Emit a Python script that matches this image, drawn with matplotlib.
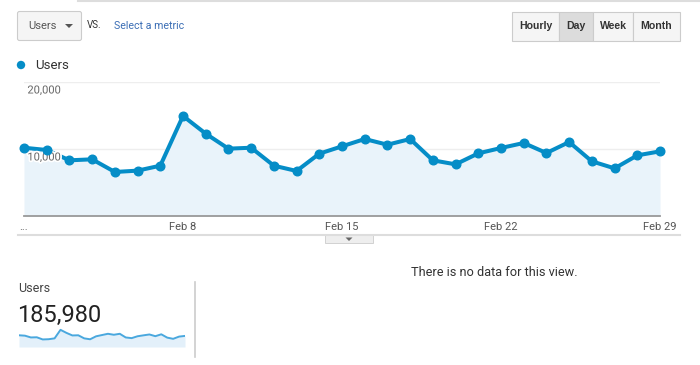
import matplotlib
matplotlib.use("Agg")
import matplotlib.pyplot as plt
from matplotlib.patches import FancyBboxPatch, Rectangle, Circle, Polygon
import matplotlib.patheffects as pe
from matplotlib.transforms import offset_copy

plt.rcParams['font.family'] = ['Roboto', 'DejaVu Sans']

# ---- data ----
days = list(range(1, 30))
users = [10190, 9850, 8310, 8460, 6570, 6770, 7510, 14930, 12290, 10050,
         10190, 7510, 6720, 9300, 10400, 11490, 10640, 11490, 8310, 7710,
         9350, 10150, 10900, 9400, 11040, 8160, 7110, 9050, 9650]
tick_days = [1, 8, 15, 22, 29]
tick_labels = ["...", "Feb 8", "Feb 15", "Feb 22", "Feb 29"]
ytick_vals = [10000, 20000]
ytick_labels = ["10,000", "20,000"]
total_users = "185,980"
metric = "Users"
buttons = ["Hourly", "Day", "Week", "Month"]

W, H = 700, 365
fig = plt.figure(figsize=(W / 100, H / 100), dpi=100)
fig.patch.set_facecolor('white')

def ax_px(x0, y0, x1, y1):
    return fig.add_axes([x0 / W, 1 - y1 / H, (x1 - x0) / W, (y1 - y0) / H])

LINE = '#058dc7'
FILL = '#e9f3fa'

# ---- main chart ----
ax = ax_px(24, 82, 660, 216)
ax.set_xlim(1, 29)
ax.set_ylim(0, 20000)
ax.fill_between(days, users, 0, color=FILL, zorder=1, lw=0)
for v in ytick_vals:
    ax.axhline(v, color='#eeeeee', lw=1, zorder=0.5)
lab_tr = offset_copy(ax.transData, fig=fig, x=0, y=-2.5, units='points')
for v, lab in zip(ytick_vals, ytick_labels):
    ax.text(1.15, v, lab, ha='left', va='top', fontsize=8, color='#666666',
            zorder=4, transform=lab_tr,
            path_effects=[pe.withStroke(linewidth=2.5, foreground='white')])
ax.plot(days, users, color=LINE, lw=2.9, zorder=3, clip_on=False,
        solid_joinstyle='round')
ax.plot(days, users, color=LINE, lw=0, marker='o', ms=6.2, zorder=5, clip_on=False)
for s in ['top', 'right', 'left']:
    ax.spines[s].set_visible(False)
ax.spines['bottom'].set_color('#999999')
ax.spines['bottom'].set_linewidth(1.3)
ax.set_yticks([])
ax.set_xticks(tick_days)
ax.set_xticklabels(tick_labels, fontsize=8, color='#555555')
ax.tick_params(axis='x', length=0, pad=4)
ax.patch.set_alpha(0)

# ---- sparkline ----
sp = ax_px(19, 324, 185, 347)
sp.set_xlim(1, 29)
sp.set_ylim(0, 20000)
sp.fill_between(days, users, 0, color='#e3f0fa', lw=0)
sp.plot(days, users, color='#4aa8de', lw=1.4)
sp.axis('off')

# ---- overlay for UI elements ----
ov = fig.add_axes([0, 0, 1, 1], zorder=-1)
ov.set_xlim(0, W)
ov.set_ylim(H, 0)
ov.axis('off')

# top line
ov.plot([78, 700], [1, 1], color='#dddddd', lw=1.5)

# Users dropdown
ov.add_patch(FancyBboxPatch((17.5, 11.5), 64, 29, boxstyle='round,pad=0,rounding_size=2',
                            fc='#f5f5f5', ec='#cccccc', lw=0.8))
ov.text(28, 26, metric, fontsize=8, color='#555555', va='center', ha='left')
ov.add_patch(Polygon([[65, 24], [73, 24], [69, 28]], closed=True, fc='#555555', ec='none'))
ov.text(87, 25, "VS.", fontsize=7, color='#333333', va='center', ha='left')
ov.text(114, 26, "Select a metric", fontsize=7.7, color='#3b6eb5', va='center', ha='left')

# Button group
edges = [512, 559, 593, 633, 680]
for i, lab in enumerate(buttons):
    fc = '#dcdcdc' if lab == "Day" else '#f5f5f5'
    ov.add_patch(Rectangle((edges[i], 11.5), edges[i + 1] - edges[i], 29,
                           fc=fc, ec='#cccccc', lw=0.8))
    ov.text((edges[i] + edges[i + 1]) / 2, 26, lab, fontsize=7.6, color='#333333',
            ha='center', va='center', family=['Liberation Sans', 'DejaVu Sans'],
            fontweight='bold')

# legend
ov.add_patch(Circle((21, 65), 4.2, fc=LINE, ec='none'))
ov.text(35, 65.5, metric, fontsize=9.5, color='#333333', va='center', ha='left')

# separator line below chart and handle
ov.plot([18, 680], [235, 235], color='#dddddd', lw=1.5)
ov.add_patch(Rectangle((325, 235), 48, 8, fc='#eeeeee', ec='#cccccc', lw=0.6))
ov.add_patch(Polygon([[345.5, 237.5], [352.5, 237.5], [349, 241]], closed=True,
                     fc='#666666', ec='none'))

# scorecard
ov.text(18, 289, metric, fontsize=9, color='#444444', va='center', ha='left')
ov.text(17, 315, total_users, fontsize=17, color='#222222', va='center', ha='left')
ov.plot([195, 195], [282, 357], color='#cccccc', lw=1.2)

ov.text(494, 273, "There is no data for this view.", fontsize=9.2, color='#333333',
        va='center', ha='center')

fig.savefig('out.png', dpi=100, facecolor='white')
